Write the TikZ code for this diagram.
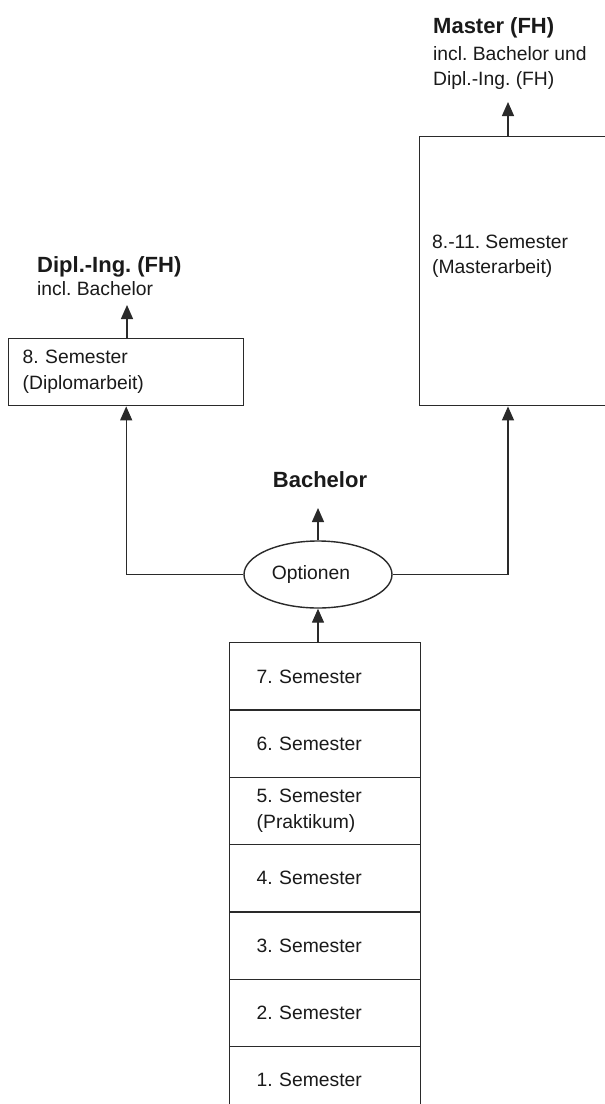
\documentclass[tikz,border=0pt]{standalone}
\usepackage{fontspec}
\setmainfont{Liberation Sans}
\usetikzlibrary{arrows.meta,shapes.geometric}
\definecolor{linegray}{HTML}{2A2A2A}
\definecolor{txt}{HTML}{1A1A1A}
\newcommand\regfont{\fontsize{19.3}{26}\selectfont\frenchspacing}
\newcommand\ttlfont{\fontsize{22}{26}\selectfont\bfseries\frenchspacing}
\begin{document}
\begin{tikzpicture}[x=1pt,y=-1pt,
  conn/.style={draw=linegray,line width=1.4pt},
  arr/.style={conn,-{Triangle[length=14pt,width=12pt]}},
  semrow/.style={draw=linegray,line width=1.4pt,rectangle,anchor=north west,
    minimum width=191pt,text width=137pt,inner xsep=27pt,inner ysep=0pt,
    minimum height=67.3pt,align=left,font=\regfont,text=txt},
  plainbox/.style={draw=linegray,line width=1.4pt,rectangle,anchor=north west,inner sep=0pt},
  ttl/.style={anchor=base west,inner sep=0pt,font=\ttlfont,text=txt},
  sub/.style={anchor=base west,inner sep=0pt,font=\regfont,text=txt}
]
\useasboundingbox (0,0) rectangle (605,1104);
\fill[white] (0,0) rectangle (605,1104);
\clip (0,0) rectangle (605,1104);

% semester stack
\node[semrow] (s7) at (229,642) {7. Semester};
\node[semrow] (s6) at (229,709.3) {6. Semester};
\node[semrow] (s5) at (229,776.6) {5. Semester\\(Praktikum)};
\node[semrow] (s4) at (229,843.9) {4. Semester};
\node[semrow] (s3) at (229,911.2) {3. Semester};
\node[semrow] (s2) at (229,978.5) {2. Semester};
\node[semrow] (s1) at (229,1045.8) {1. Semester};

% options
\node[ellipse,draw=linegray,line width=1.4pt,minimum width=148pt,minimum height=67pt,
  inner sep=0pt,font=\regfont,text=txt] (opt) at (318,574.5) {Optionen\hspace*{14pt}};
\node[anchor=base,inner sep=0pt,font=\ttlfont,text=txt] (bach) at (320,487) {Bachelor};
\coordinate (btip) at (318,508);

% left branch
\node[semrow,minimum width=235pt,text width=207pt,inner xsep=14pt,minimum height=67pt] (d8) at (8,338) {8. Semester\\(Diplomarbeit)};
\node[ttl] (dtitle) at (37,272) {Dipl.-Ing. (FH)};
\node[sub] (dsub) at (37,295) {incl. Bachelor};
\coordinate (dtip) at (127,305);

% right branch
\node[plainbox,minimum width=200pt,minimum height=269pt] (m) at (419,136) {};
\node[sub] (mt1) at (432,248) {8.-11. Semester};
\node[sub] (mt2) at (432,273) {(Masterarbeit)};
\node[ttl] (mtitle) at (433,33) {Master (FH)};
\node[sub] (msub1) at (433,60) {incl. Bachelor und};
\node[sub] (msub2) at (433,85) {Dipl.-Ing. (FH)};
\coordinate (mtip) at (508,102);

% connectors
\draw[arr] (opt.south |- s7.north) -- (opt.south);
\draw[arr] (opt.north) -- (btip);
\draw[arr] (opt.west) -| (d8.south);
\draw[arr] (opt.east) -| (mtip |- m.south);
\draw[arr] (dtip |- d8.north) -- (dtip);
\draw[arr] (mtip |- m.north) -- (mtip);
\end{tikzpicture}
\end{document}
